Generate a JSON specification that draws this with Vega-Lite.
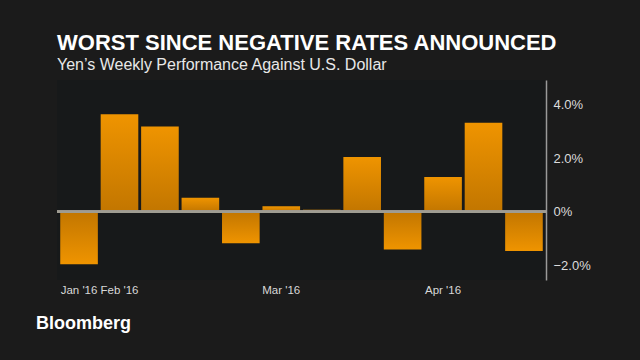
{
  "$schema": "https://vega.github.io/schema/vega-lite/v6.json",
  "autosize": {"type": "none"},
  "width": 489,
  "height": 200,
  "padding": {"left": 57, "top": 80, "right": 94, "bottom": 80},
  "background": "#1b1b1b",
  "title": {
    "text": "WORST SINCE NEGATIVE RATES ANNOUNCED",
    "subtitle": "Yen’s Weekly Performance Against U.S. Dollar",
    "anchor": "start",
    "frame": "group",
    "font": "Liberation Sans",
    "fontSize": 22,
    "fontWeight": "bold",
    "color": "#ffffff",
    "subtitleFont": "Liberation Sans",
    "subtitleFontSize": 16,
    "subtitleColor": "#e8e8e8",
    "subtitlePadding": 2,
    "offset": 6
  },
  "config": {
    "view": {"fill": "#17191a", "stroke": null},
    "font": "Liberation Sans"
  },
  "data": {
    "values": [
      {"week": "2016-01-29", "value": -1.96},
      {"week": "2016-02-05", "value": 3.64},
      {"week": "2016-02-12", "value": 3.18},
      {"week": "2016-02-19", "value": 0.52},
      {"week": "2016-02-26", "value": -1.18},
      {"week": "2016-03-04", "value": 0.2},
      {"week": "2016-03-11", "value": 0.07},
      {"week": "2016-03-18", "value": 2.04},
      {"week": "2016-03-25", "value": -1.41},
      {"week": "2016-04-01", "value": 1.3},
      {"week": "2016-04-08", "value": 3.32},
      {"week": "2016-04-15", "value": -1.47}
    ]
  },
  "encoding": {
    "x": {
      "field": "week",
      "type": "ordinal",
      "sort": "ascending",
      "scale": {"paddingInner": 0.07, "paddingOuter": 0.08},
      "axis": {
        "title": "Bloomberg",
        "titleX": 26,
        "titleY": 43,
        "titleAlign": "center",
        "titleBaseline": "middle",
        "titleColor": "#ffffff",
        "titleFont": "Liberation Sans",
        "titleFontSize": 18,
        "titleFontWeight": "bold",
        "labelAngle": 0,
        "labelExpr": "datum.value == '2016-01-29' ? \"Jan '16\" : datum.value == '2016-02-05' ? \"Feb '16\" : datum.value == '2016-03-04' ? \"Mar '16\" : datum.value == '2016-04-01' ? \"Apr '16\" : ''",
        "labelColor": "#d8d8d8",
        "labelFontSize": 11.5,
        "labelPadding": 4,
        "labelBaseline": "top",
        "ticks": false,
        "domain": false,
        "grid": false
      }
    },
    "y": {
      "field": "value",
      "type": "quantitative",
      "scale": {"domain": [-2.55, 4.92], "nice": false, "zero": false},
      "axis": {
        "orient": "right",
        "title": null,
        "values": [-2, 0, 2, 4],
        "labelExpr": "datum.value == 0 ? '0%' : format(datum.value, '.1f') + '%'",
        "labelColor": "#dcdcdc",
        "labelFontSize": 13,
        "labelPadding": 7,
        "ticks": false,
        "grid": false,
        "domainColor": "#9a9a9a",
        "domainWidth": 1.5
      }
    }
  },
  "layer": [
    {
      "transform": [{"filter": "datum.value >= 0"}],
      "mark": {
        "type": "bar",
        "color": {
          "gradient": "linear",
          "x1": 0, "y1": 0, "x2": 0, "y2": 1,
          "stops": [
            {"offset": 0, "color": "#ef9400"},
            {"offset": 1, "color": "#c27600"}
          ]
        }
      }
    },
    {
      "transform": [{"filter": "datum.value < 0"}],
      "mark": {
        "type": "bar",
        "color": {
          "gradient": "linear",
          "x1": 0, "y1": 0, "x2": 0, "y2": 1,
          "stops": [
            {"offset": 0, "color": "#c27600"},
            {"offset": 1, "color": "#ef9400"}
          ]
        }
      }
    },
    {
      "mark": {"type": "rule", "color": "#9f9c92", "strokeWidth": 2},
      "encoding": {"x": null, "y": {"datum": 0}}
    }
  ]
}
